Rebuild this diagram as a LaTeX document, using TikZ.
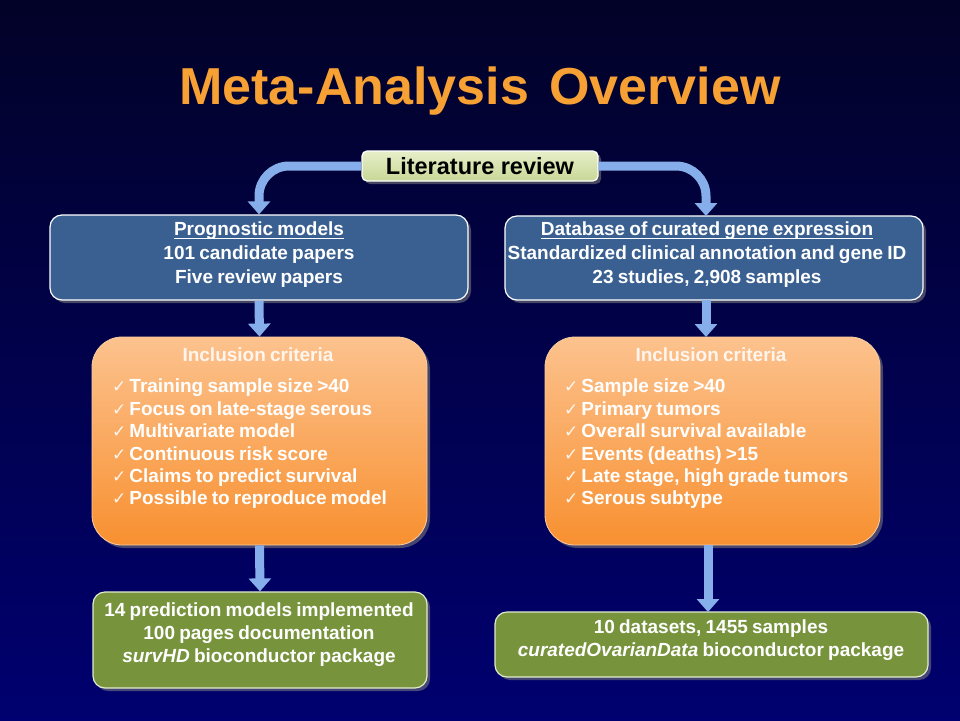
\documentclass[tikz,border=0pt]{standalone}
\usepackage{fontspec}
\setmainfont{Liberation Sans}
\newfontfamily\symfont{DejaVu Sans}
\usetikzlibrary{arrows.meta,shadows}

\definecolor{navytop}{RGB}{2,2,40}
\definecolor{navybottom}{RGB}{0,0,112}
\definecolor{titleorange}{RGB}{247,160,52}
\definecolor{boxblue}{RGB}{58,96,146}
\definecolor{boxgreen}{RGB}{119,147,60}
\definecolor{greenedge}{RGB}{225,235,205}
\definecolor{flowblue}{RGB}{134,174,234}
\definecolor{orangetop}{RGB}{252,194,142}
\definecolor{orangebottom}{RGB}{248,144,48}
\definecolor{orangeedge}{RGB}{250,205,160}
\definecolor{creamtext}{RGB}{254,246,238}
\definecolor{littop}{RGB}{230,238,200}
\definecolor{litbottom}{RGB}{200,216,150}

% underlined heading with a firmer rule
\newcommand\headline[1]{\setbox0\hbox{#1}\rlap{\raisebox{-3pt}{\rule{\wd0}{1.4pt}}}\box0}
% check mark bullet
\newcommand\tick{{\symfont\fontsize{17}{17}\selectfont\mdseries\color{creamtext}✓}\hspace{3pt}}
% tighter word spacing, as in the slide text
\newcommand\tight{\spaceskip=0.22em plus 0.05em minus 0.02em\relax}

\tikzset{
  txt/.style={font=\fontsize{19}{24}\selectfont\bfseries\tight, text=white, inner sep=0pt, align=center},
  listtxt/.style={txt, align=left, font=\fontsize{19}{22.4}\selectfont\bfseries\tight},
  panel/.style={draw=white, line width=1.2pt, rounded corners=12pt, inner sep=0pt,
    drop shadow={shadow xshift=3pt, shadow yshift=-3pt, opacity=0.55}},
  bluebox/.style={panel, fill=boxblue},
  greenbox/.style={panel, fill=boxgreen, draw=greenedge},
  critbox/.style={panel, rounded corners=30pt, draw=orangeedge, line width=0.8pt,
    top color=orangetop, bottom color=orangebottom},
  litbox/.style={panel, rounded corners=5pt, top color=littop, bottom color=litbottom},
  flow/.style={draw=flowblue, line width=9pt, -{Triangle[width=22pt,length=13pt]}},
}

\begin{document}
\begin{tikzpicture}[x=1pt, y=-1pt]
  % background
  \shade[top color=navytop, bottom color=navybottom] (0,0) rectangle (960,720);
  \useasboundingbox (0,0) rectangle (960,720);

  % title
  \node[anchor=base, text=titleorange, font=\fontsize{52}{56}\selectfont\bfseries, inner sep=0pt]
    (title) at (480,104) {Meta-Analysis\hspace{6pt} Overview};

  % boxes
  \node[litbox, minimum width=236, minimum height=30] (lit) at (480,166) {};
  \node[bluebox, minimum width=418, minimum height=85] (prog) at (259,257.5) {};
  \node[bluebox, minimum width=418, minimum height=84] (data) at (714,258) {};
  \node[critbox, minimum width=335, minimum height=208] (critL) at (259.5,441) {};
  \node[critbox, minimum width=335, minimum height=208] (critR) at (712.5,441) {};
  \node[greenbox, minimum width=334, minimum height=96] (outL) at (260,640) {};
  \node[greenbox, minimum width=433, minimum height=65] (outR) at (711.5,644.5) {};

  % arrow anchor points in the right column
  \coordinate (dataTop) at (706,216);
  \coordinate (dataBot) at (706,300);
  \coordinate (critRTop) at (706,337);
  \coordinate (critRBot) at (708,545);
  \coordinate (outRTop) at (708,612);

  % connectors
  \draw[flow, rounded corners=30pt] (lit.west) -| (prog.north);
  \draw[flow, rounded corners=30pt] (lit.east) -| (dataTop);
  \draw[flow] (prog.south) -- (critL.north);
  \draw[flow] (dataBot) -- (critRTop);
  \draw[flow] (critL.south) -- (outL.north);
  \draw[flow] (critRBot) -- (outRTop);

  % texts
  \node[txt, text=black, font=\fontsize{23.5}{26}\selectfont\bfseries] (litT) at (480,166) {Literature review};
  \node[txt] (progT) at (259,255) {\headline{Prognostic models}\\101 candidate papers\\Five review papers};
  \node[txt] (dataT) at (707,255) {\headline{Database of curated gene expression}\\Standardized clinical annotation and gene ID\\23 studies, 2,908 samples};

  \node[txt, text=creamtext] (critLH) at (258,355) {Inclusion criteria};
  \node[txt, text=creamtext] (critRH) at (711,355) {Inclusion criteria};

  \node[listtxt, anchor=west] (critLT) at (112,444) {%
    \tick Training sample size >40\\
    \tick Focus on late-stage serous\\
    \tick Multivariate model\\
    \tick Continuous risk score\\
    \tick Claims to predict survival\\
    \tick Possible to reproduce model};
  \node[listtxt, anchor=west] (critRT) at (564,444) {%
    \tick Sample size >40\\
    \tick Primary tumors\\
    \tick Overall survival available\\
    \tick Events (deaths) >15\\
    \tick Late stage, high grade tumors\\
    \tick Serous subtype};

  \node[txt, font=\fontsize{19}{23}\selectfont\bfseries\tight] (outLT) at (259,634.5)
    {14 prediction models implemented\\100 pages documentation\\\textit{survHD} bioconductor package};
  \node[txt, font=\fontsize{19}{22.5}\selectfont\bfseries\tight] (outRT) at (711,640)
    {10 datasets, 1455 samples\\\textit{curatedOvarianData} bioconductor package};
\end{tikzpicture}
\end{document}
